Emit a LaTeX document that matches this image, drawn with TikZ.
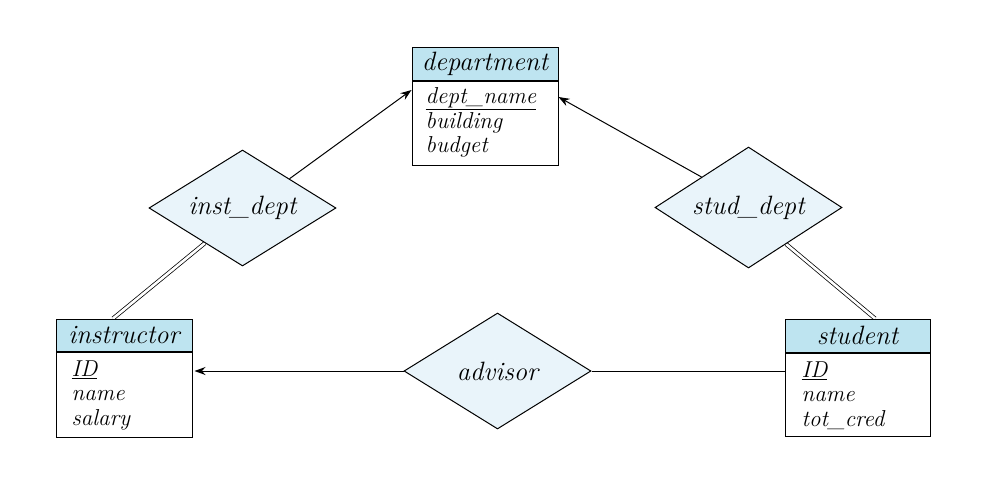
\documentclass[tikz,border=0pt]{standalone}
\usepackage{fontspec}
\usetikzlibrary{shapes.geometric,arrows.meta,calc}
\definecolor{hdr}{RGB}{190,228,240}
\definecolor{dia}{RGB}{233,244,250}
\pgfdeclarelayer{background}
\pgfsetlayers{background,main}
\begin{document}
\begin{tikzpicture}[x=1pt,y=-1pt,
  ehead/.style={draw, fill=hdr, line width=1pt, inner sep=0pt, font=\itshape\fontsize{26.5}{28}\selectfont},
  ebody/.style={draw, fill=white, line width=1pt, inner sep=0pt, anchor=north},
  attr/.style={anchor=north west, align=left, inner sep=0pt, font=\itshape\fontsize{23}{24.5}\selectfont},
  rel/.style={diamond, draw, fill=dia, line width=1pt, inner sep=0pt, aspect=1.6, minimum width=187pt, font=\itshape\fontsize{26.5}{28}\selectfont},
  arr/.style={line width=1pt, -{Stealth[length=11pt,width=8pt]}},
  conn/.style={line width=1pt},
  dbl/.style={line width=0.75pt, double, double distance=2.6pt}]
\useasboundingbox (0,0) rectangle (995,477);

% department
\node[ehead, minimum width=146pt, minimum height=33pt] (dhead) at (485,63.5) {department};
\node[ebody, minimum width=146pt, minimum height=84pt] (dbody) at (dhead.south) {};
\node[attr] (dattr) at ([xshift=14pt,yshift=-7pt]dbody.north west) {\underline{dept\_name}\\building\\budget};

% instructor
\node[ehead, minimum width=136pt, minimum height=32pt] (ihead) at (124,335) {instructor};
\node[ebody, minimum width=136pt, minimum height=85pt] (ibody) at (ihead.south) {};
\node[attr] (iattr) at ([xshift=16pt,yshift=-9pt]ibody.north west) {\underline{ID}\\name\\salary};

% student
\node[ehead, minimum width=145pt, minimum height=33pt] (shead) at (857.5,335.5) {student};
\node[ebody, minimum width=145pt, minimum height=83pt] (sbody) at (shead.south) {};
\node[attr] (sattr) at ([xshift=17pt,yshift=-9pt]sbody.north west) {\underline{ID}\\name\\tot\_cred};

% relationships
\node[rel, minimum height=116pt] (idept) at (242.5,208) {inst\_dept};
\node[rel, minimum height=121pt] (sdept) at (748.5,207.5) {stud\_dept};
\node[rel, minimum height=116pt] (adv) at (497.5,371) {advisor};

\begin{pgfonlayer}{background}
\draw[arr] (idept.north east) -- ([yshift=33pt]dbody.west);
\draw[arr] (sdept.north west) -- ([yshift=26pt]dbody.east);
\draw[dbl] ($(idept.west)!0.6!(idept.south)$) -- ([xshift=-11pt]ihead.north);
\draw[dbl] ($(sdept.east)!0.6!(sdept.south)$) -- ([xshift=17.5pt]shead.north);
\draw[arr] (adv.west) -- ([xshift=2pt]adv.west -| ibody.east);
\draw[conn] (adv.east) -- (adv.east -| sbody.west);
\end{pgfonlayer}
\end{tikzpicture}
\end{document}
